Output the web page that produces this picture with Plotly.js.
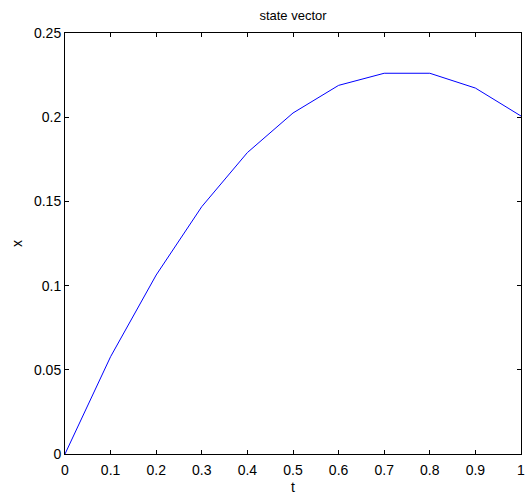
<!DOCTYPE html>
<html>
<head>
<meta charset="utf-8">
<script src="https://cdn.plot.ly/plotly-3.0.1.min.js"></script>
<style>html,body{margin:0;padding:0;background:#fff;}#chart{width:526px;height:495px;}</style>
</head>
<body>
<div id="chart"></div>
<script>
const tValues = [0, 0.1, 0.2, 0.3, 0.4, 0.5, 0.6, 0.7, 0.8, 0.9, 1.0];
const xValues = [0, 0.0578, 0.1063, 0.1469, 0.1790, 0.2025, 0.2189, 0.2261, 0.2261, 0.2173, 0.2007];
const xTickVals = [0, 0.1, 0.2, 0.3, 0.4, 0.5, 0.6, 0.7, 0.8, 0.9, 1];
const xTickText = ['0', '0.1', '0.2', '0.3', '0.4', '0.5', '0.6', '0.7', '0.8', '0.9', '1'];
const yTickVals = [0, 0.05, 0.1, 0.15, 0.2, 0.25];
const yTickText = ['0', '0.05', '0.1', '0.15', '0.2', '0.25'];

const fontFam = 'Liberation Sans, Arial, sans-serif';
const axisCommon = {
  showgrid: false, zeroline: false, showline: true, linecolor: '#000', linewidth: 1,
  mirror: 'ticks', ticks: 'inside', ticklen: 4, tickcolor: '#000', tickwidth: 1,
  tickfont: {family: fontFam, size: 14, color: '#000'}
};
Plotly.newPlot('chart', [{
  x: tValues, y: xValues, type: 'scatter', mode: 'lines',
  line: {color: '#0000ff', width: 1}
}], {
  width: 526, height: 495,
  margin: {l: 65, r: 5, t: 33, b: 41},
  paper_bgcolor: '#fff', plot_bgcolor: '#fff',
  showlegend: false,
  title: {text: 'state vector', font: {family: fontFam, size: 13, color: '#000'}, x: 0.557, xanchor: 'center', y: 0.968, yanchor: 'middle'},
  xaxis: Object.assign({}, axisCommon, {
    range: [0, 1], tickvals: xTickVals, ticktext: xTickText, ticklabelstandoff: 3,
    title: {text: 't', font: {family: fontFam, size: 14, color: '#000'}, standoff: 5}
  }),
  yaxis: Object.assign({}, axisCommon, {
    range: [0, 0.25], tickvals: yTickVals, ticktext: yTickText,
    title: {text: 'x', font: {family: fontFam, size: 14, color: '#000'}, standoff: 8}
  })
}, {displayModeBar: false, staticPlot: true});
</script>
</body>
</html>
